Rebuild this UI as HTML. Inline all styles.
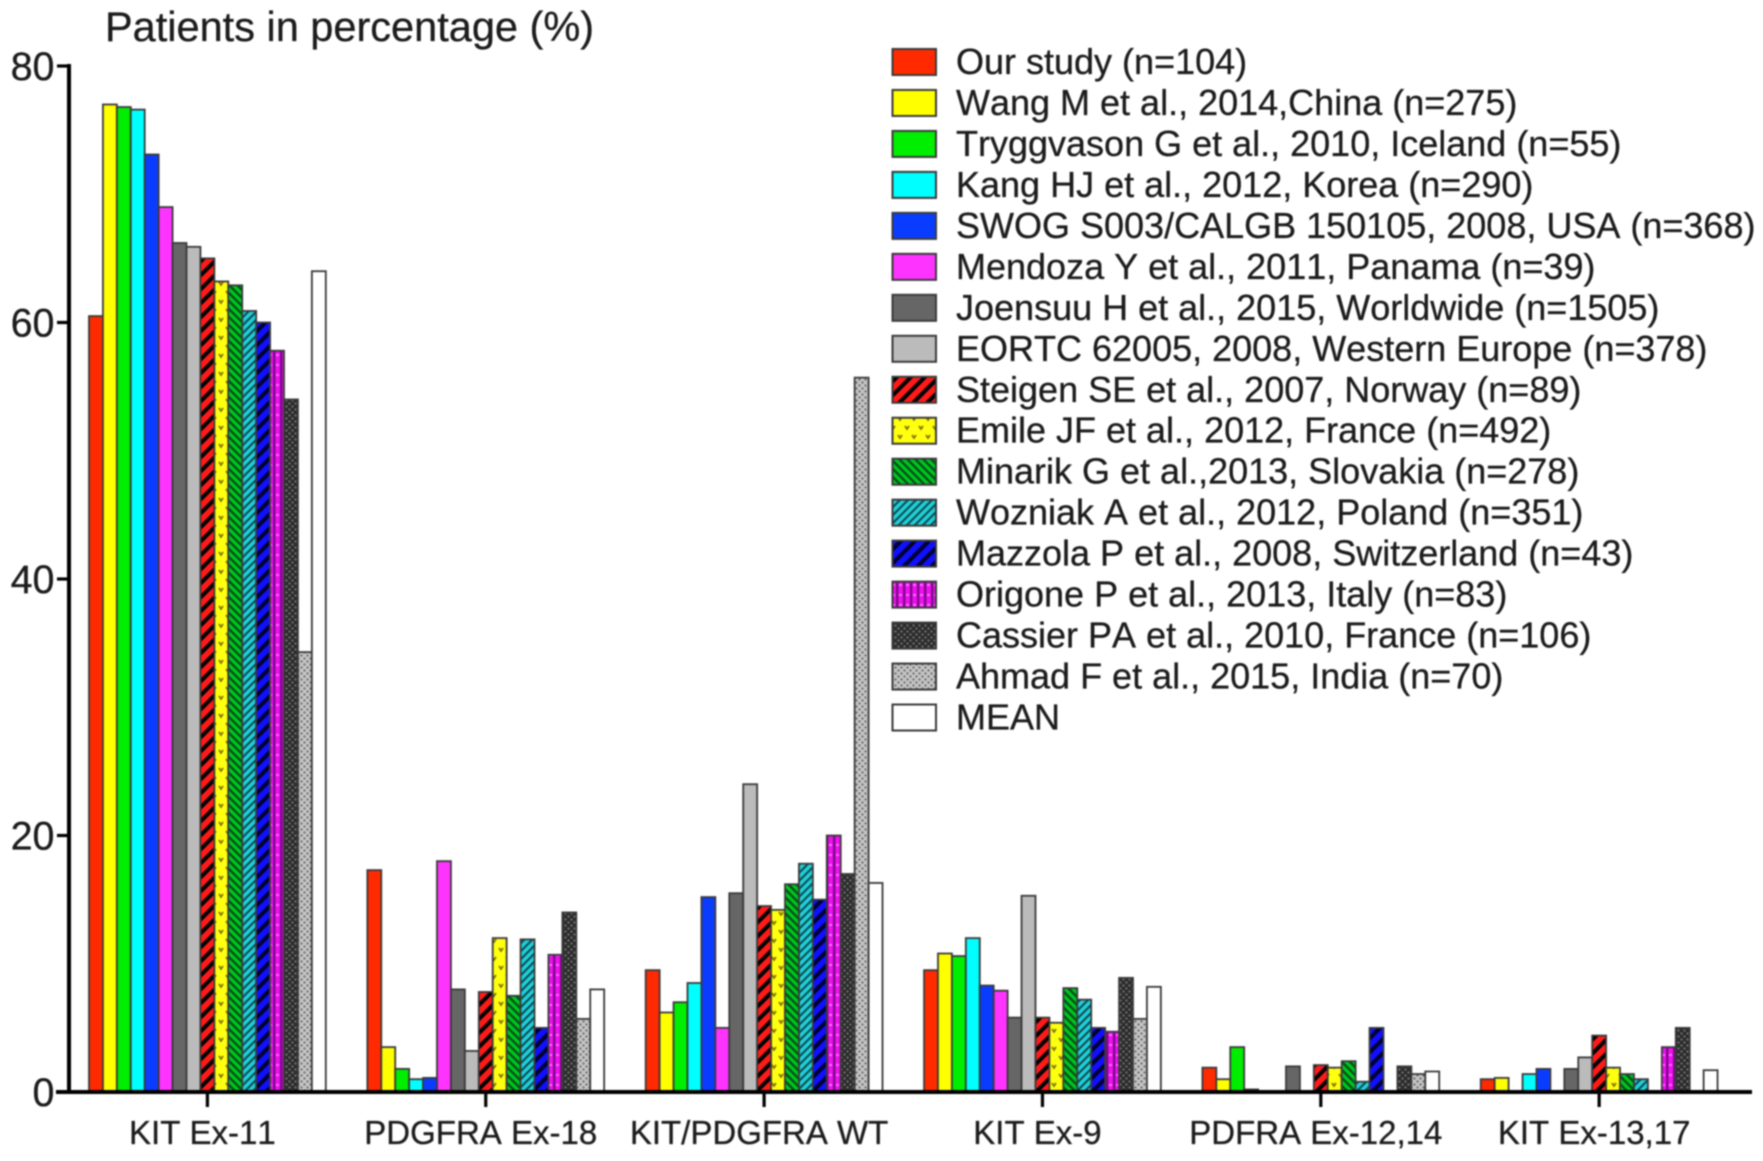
<!DOCTYPE html>
<html lang="en">
<head>
<meta charset="utf-8">
<title>Patients in percentage by mutation type</title>
<style>
html,body{margin:0;padding:0;background:#fff;}
#chart{display:block;width:1763px;height:1161px;filter:blur(0.7px);}
text{font-family:"Liberation Sans",sans-serif;fill:#1c1c1c;font-kerning:none;stroke:#1c1c1c;stroke-width:0.3px;}
</style>
</head>
<body>
<svg id="chart" xmlns="http://www.w3.org/2000/svg" width="1763" height="1161" viewBox="0 0 1763 1161">
<defs>
<pattern id="p-red" patternUnits="userSpaceOnUse" width="14" height="14"><rect width="14" height="14" fill="#ff1a1a"/><path d="M-3.5,3.5L3.5,-3.5M0,14L14,0M10.5,17.5L17.5,10.5" stroke="#000" stroke-width="4"/></pattern>
<pattern id="p-yellow" patternUnits="userSpaceOnUse" width="14" height="18"><rect width="14" height="18" fill="#ffff10"/><path d="M2,3l2,3l2,-3M9,12l2,3l2,-3" stroke="#7a6a00" stroke-width="1.6" fill="none"/></pattern>
<pattern id="p-green" patternUnits="userSpaceOnUse" width="8" height="8"><rect width="8" height="8" fill="#00c81e"/><path d="M-2,-2L10,10M-2,6L2,10M6,-2L10,2" stroke="#04501a" stroke-width="2.4"/></pattern>
<pattern id="p-teal" patternUnits="userSpaceOnUse" width="8" height="8"><rect width="8" height="8" fill="#22d0d8"/><path d="M-2,10L10,-2M-2,2L2,-2M6,10L10,6" stroke="#0a5058" stroke-width="2.2"/></pattern>
<pattern id="p-blue" patternUnits="userSpaceOnUse" width="14" height="14"><rect width="14" height="14" fill="#1010ff"/><path d="M-3.5,3.5L3.5,-3.5M0,14L14,0M10.5,17.5L17.5,10.5" stroke="#000030" stroke-width="4"/></pattern>
<pattern id="p-magenta" patternUnits="userSpaceOnUse" width="7" height="10"><rect width="7" height="10" fill="#ee10ee"/><rect x="0" width="2.4" height="10" fill="#7a0a8a"/><rect x="3" y="4" width="3" height="2" fill="#ff70ff"/></pattern>
<pattern id="p-dark" patternUnits="userSpaceOnUse" width="6" height="6"><rect width="6" height="6" fill="#2c2c2c"/><circle cx="1.5" cy="1.5" r="1.1" fill="#777"/><circle cx="4.5" cy="4.5" r="1.1" fill="#777"/></pattern>
<pattern id="p-gray" patternUnits="userSpaceOnUse" width="6" height="6"><rect width="6" height="6" fill="#c4c4c4"/><circle cx="1.5" cy="1.5" r="1.1" fill="#666"/><circle cx="4.5" cy="4.5" r="1.1" fill="#666"/></pattern>
</defs>
<text x="105" y="41" font-size="41.5">Patients in percentage (%)</text>
<g id="bars"></g>
<g id="axes"></g>
<g id="legend"></g>
</svg>
<script>
const categories = ["KIT Ex-11","PDGFRA Ex-18","KIT/PDGFRA WT","KIT Ex-9","PDFRA Ex-12,14","KIT Ex-13,17"];
const seriesNames = ["Our study (n=104)","Wang M et al., 2014,China (n=275)","Tryggvason G et al., 2010, Iceland (n=55)","Kang HJ et al., 2012, Korea (n=290)","SWOG S003/CALGB 150105, 2008, USA (n=368)","Mendoza Y et al., 2011, Panama (n=39)","Joensuu H et al., 2015, Worldwide (n=1505)","EORTC 62005, 2008, Western Europe (n=378)","Steigen SE et al., 2007, Norway (n=89)","Emile JF et al., 2012, France (n=492)","Minarik G et al.,2013, Slovakia (n=278)","Wozniak A et al., 2012, Poland (n=351)","Mazzola P et al., 2008, Switzerland (n=43)","Origone P et al., 2013, Italy (n=83)","Cassier PA et al., 2010, France (n=106)","Ahmad F et al., 2015, India (n=70)","MEAN"];
const kitEx11 = [60.5,77,76.8,76.6,73.1,69,66.2,65.9,65,63.2,62.9,60.9,60,57.8,54,34.3,64];
const pdgfraEx18 = [17.3,3.5,1.8,1,1.1,18,8,3.2,7.8,12,7.5,11.9,5,10.7,14,5.7,8];
const wildType = [9.5,6.2,7,8.5,15.2,5,15.5,24,14.5,14.2,16.2,17.8,15,20,17,55.7,16.3];
const kitEx9 = [9.5,10.8,10.6,12,8.3,7.9,5.8,15.3,5.8,5.4,8.1,7.2,5,4.7,8.9,5.7,8.2];
const pdfraEx1214 = [1.9,1,3.5,0.2,0,0,2,0,2.1,1.9,2.4,0.8,5,0,2,1.4,1.6];
const kitEx1317 = [1,1.1,0,1.4,1.8,0,1.8,2.7,4.4,1.9,1.4,1,0,3.5,5,0,1.7];
const groupValues = [kitEx11,pdgfraEx18,wildType,kitEx9,pdfraEx1214,kitEx1317];
const yTicks = [0,20,40,60,80];

const seriesFills = ["#ff2a00","#ffff00","#00ee00","#00ffff","#0a3cff","#ff33ff","#666666","#bbbbbb","url(#p-red)","url(#p-yellow)","url(#p-green)","url(#p-teal)","url(#p-blue)","url(#p-magenta)","url(#p-dark)","url(#p-gray)","#ffffff"];

const NS = "http://www.w3.org/2000/svg";
const yZero = 1092, yUnit = 12.825, xStart = 89, barW = 13.93, groupPitch = 278.35;
function yScale(v){ return yZero - v * yUnit; }
function xBar(g,s){ return xStart + g * groupPitch + s * barW; }
function xTick(g){ return xStart + g * groupPitch + 8.5 * barW; }
function make(tag, parent, attrs){
  const el = document.createElementNS(NS, tag);
  for (const k in attrs) el.setAttribute(k, attrs[k]);
  parent.appendChild(el);
  return el;
}

const barsG = document.getElementById("bars");
groupValues.forEach(function(vals, g){
  vals.forEach(function(v, s){
    if (v <= 0) return;
    const r = make("rect", barsG, {x:xBar(g,s), y:yScale(v), width:barW, height:v*yUnit, fill:seriesFills[s], stroke:"#3a3a3a", "stroke-width":1.8});
    
    
  });
});

const axesG = document.getElementById("axes");
const yLine = make("line", axesG, {x1:69, x2:69, y1:yScale(80)-2, y2:yZero+2, stroke:"#000", "stroke-width":4});


const xLine = make("line", axesG, {x1:56, x2:1752, y1:yZero, y2:yZero, stroke:"#000", "stroke-width":4});


yTicks.forEach(function(t){
  const tick = make("line", axesG, {x1:57, x2:69, y1:yScale(t), y2:yScale(t), stroke:"#000", "stroke-width":3.2});
  
  
  const lab = make("text", axesG, {x:54.5, y:yScale(t)+14, "font-size":39.5, "text-anchor":"end"});
  lab.textContent = String(t);
  
  
});
categories.forEach(function(c, g){
  const tick = make("line", axesG, {x1:xTick(g), x2:xTick(g), y1:yZero, y2:yZero+15, stroke:"#000", "stroke-width":3.2});
  
  
  const lab = make("text", axesG, {x:xTick(g)-5, y:1144, "font-size":33, "text-anchor":"middle"});
  lab.textContent = c;
  
  
});

const legendG = document.getElementById("legend");
seriesNames.forEach(function(name, s){
  const y = 48 + s * 40.97;
  const sw = make("rect", legendG, {x:892.5, y:y+1, width:43.5, height:26, fill:seriesFills[s], stroke:"#3a3a3a", "stroke-width":2});
  
  
  const t = make("text", legendG, {x:956, y:y+26, "font-size":36});
  t.textContent = name;
  
  
});
</script>
</body>
</html>
